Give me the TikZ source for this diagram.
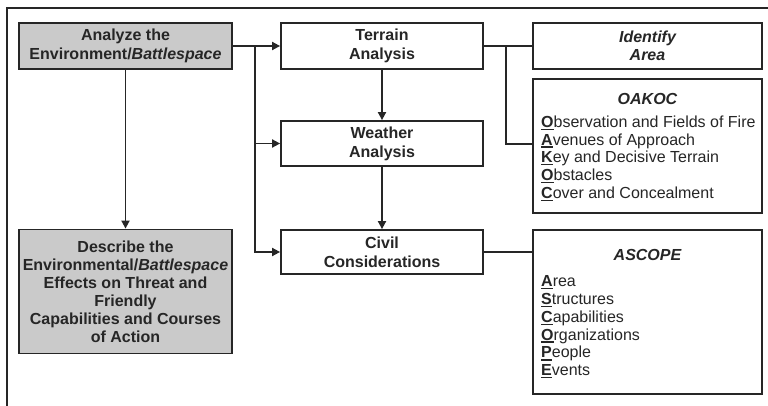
\documentclass[tikz,border=0pt]{standalone}
\usepackage{fontspec}
\setmainfont{Liberation Sans}
\usetikzlibrary{arrows.meta,calc}
% bold initial letter with a heavy rule below it
\newcommand\keyletter[1]{\setbox0\hbox{\bfseries #1}\rlap{\rule[-2.6pt]{\wd0}{1.3pt}}\box0}
\definecolor{ink}{HTML}{262626}
\definecolor{boxgray}{HTML}{CACACA}
\begin{document}
\begin{tikzpicture}[x=1pt,y=-1pt,
  box/.style={draw=ink,line width=1.8pt,rectangle,inner sep=0pt,
    font=\fontsize{16}{18.8}\selectfont\bfseries,text=ink,align=center},
  shaded/.style={box,fill=boxgray},
  wire/.style={draw=ink,line width=1.8pt},
  arr/.style={wire,-{Triangle[length=8pt,width=8pt]}},
  title/.style={font=\fontsize{16}{18}\selectfont\bfseries\itshape,text=ink,inner sep=0pt},
  items/.style={font=\fontsize{16}{17.8}\selectfont,text=ink,align=left,inner sep=0pt,anchor=north west}]
\useasboundingbox (0,0) rectangle (768,406);
\fill[white] (0,0) rectangle (768,406);
% frame
\draw[wire] (7,406) -- (7,8) -- (768,8);

% left column
\node[shaded,minimum width=213pt,minimum height=46pt] (an) at (125.5,46)
  {Analyze the\\Environment/\textit{Battlespace}};
\node[shaded,minimum width=213pt,minimum height=124pt,font=\fontsize{16}{18}\selectfont\bfseries] (des) at (125.5,291.5)
  {Describe the\\Environmental/\textit{Battlespace}\\Effects on Threat and\\Friendly\\Capabilities and Courses\\of Action};

% middle column
\node[box,minimum width=202pt,minimum height=46pt] (ter) at (382,46) {Terrain\\Analysis};
\node[box,minimum width=202pt,minimum height=45pt] (wea) at (382,143.5) {Weather\\Analysis};
\node[box,minimum width=202pt,minimum height=44pt] (civ) at (382,252) {Civil\\Considerations};

% right column
\node[box,minimum width=229pt,minimum height=46pt,font=\fontsize{16}{18.5}\selectfont\bfseries\itshape] (ida) at (647.5,46) {Identify\\Area};
\node[box,minimum width=229pt,minimum height=134pt] (oak) at (647.5,146) {};
\node[title] (oakt) at (647.5,99) {OAKOC};
\node[items] (oakl) at (541,115.5) {\keyletter{O}bservation and Fields of Fire\\
  \keyletter{A}venues of Approach\\\keyletter{K}ey and Decisive Terrain\\
  \keyletter{O}bstacles\\\keyletter{C}over and Concealment};
\node[box,minimum width=229pt,minimum height=164pt] (asc) at (647.5,312) {};
\node[title] (asct) at (647.5,255) {ASCOPE};
\node[items] (ascl) at (541,275.5) {\keyletter{A}rea\\\keyletter{S}tructures\\
  \keyletter{C}apabilities\\\keyletter{O}rganizations\\\keyletter{P}eople\\\keyletter{E}vents};

% connectors
\coordinate (jl) at (255,46);
\coordinate (jr) at (506,46);
\draw[arr] (an.east) -- (ter.west);
\draw[arr] (jl) |- (wea.west);
\draw[arr] (jl) |- (civ.west);
\draw[arr] (an.south) -- (des.north);
\draw[arr] (ter.south) -- (wea.north);
\draw[arr] (wea.south) -- (civ.north);
\draw[wire] (ter.east) -- (ida.west);
\draw[wire] (jr) |- ($(oak.west)+(0,-2)$);
\draw[wire] (civ.east) -- (civ.east -| asc.west);
\end{tikzpicture}
\end{document}
